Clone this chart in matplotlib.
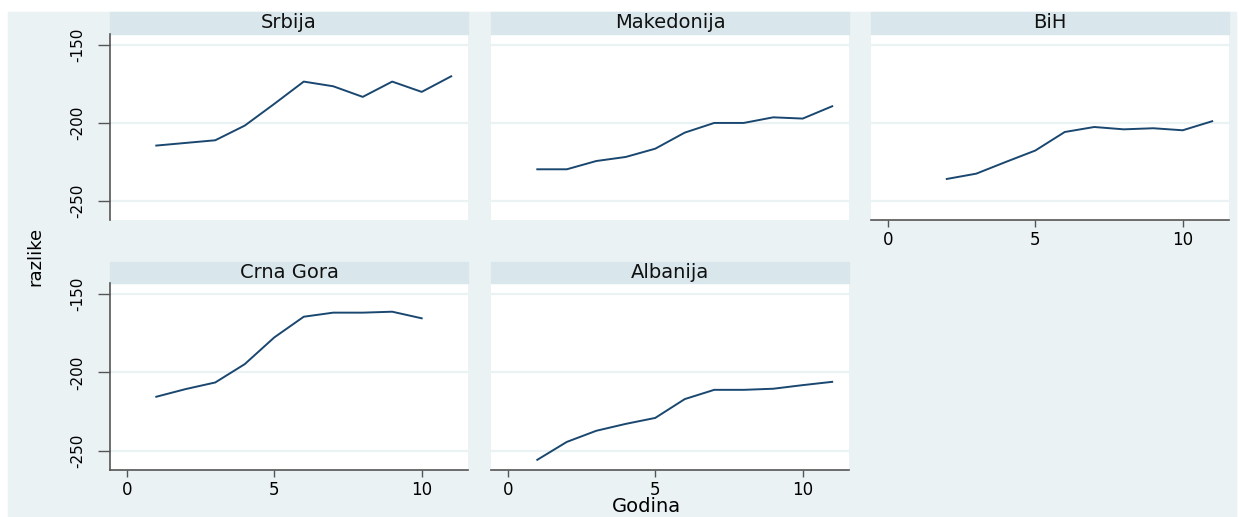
import matplotlib.pyplot as plt
from matplotlib.patches import Rectangle

plt.rcParams["axes.unicode_minus"] = False

# values
years = [1, 2, 3, 4, 5, 6, 7, 8, 9, 10, 11]
srbija = [-214.5, -212.8, -211.1, -201.7, -187.8, -173.5, -176.5, -183.3, -173.5, -180.1, -170.1]
makedonija = [-229.7, -229.7, -224.4, -221.8, -216.5, -206.2, -200.0, -200.0, -196.4, -197.2, -189.3]
bih_years = [2, 3, 4, 5, 6, 7, 8, 9, 10, 11]
bih = [-235.9, -232.5, -225.0, -217.7, -205.8, -202.6, -204.1, -203.4, -204.7, -198.9]
cg_years = [1, 2, 3, 4, 5, 6, 7, 8, 9, 10]
crna_gora = [-215.5, -210.6, -206.4, -194.7, -177.7, -164.5, -161.9, -161.9, -161.3, -165.5]
albanija = [-255.7, -244.3, -237.2, -232.8, -229.0, -217.0, -211.1, -211.1, -210.4, -208.1, -206.0]

panels = [
    ("Srbija", years, srbija),
    ("Makedonija", years, makedonija),
    ("BiH", bih_years, bih),
    ("Crna Gora", cg_years, crna_gora),
    ("Albanija", years, albanija),
]
yticks = [-250, -200, -150]
xticks = [0, 5, 10]

bg = "#EAF2F3"
strip = "#D9E6EB"
navy = "#1A476F"
axcol = "#555555"

W, H = 1239, 517
fig = plt.figure(figsize=(W / 100, H / 100), dpi=100)
fig.patch.set_facecolor("white")
fig.add_artist(Rectangle((8 / W, 0), (1236 - 8) / W, 1 - 12 / H,
                         transform=fig.transFigure, color=bg, zorder=0))

cols = [(110, 468), (491, 849), (871, 1229)]
rows = [(34, 220), (283, 470)]
head = [22, 21]

for i, (name, xs, ys) in enumerate(panels):
    r, c = divmod(i, 3)
    x0, x1 = cols[c]
    y0, y1 = rows[r]
    ax = fig.add_axes([x0 / W, 1 - y1 / H, (x1 - x0) / W, (y1 - y0) / H])
    ax.set_facecolor("white")
    ax.plot(xs, ys, color=navy, lw=1.4)
    ax.set_xlim(-0.57, 11.57)
    ax.set_ylim(-262.2, -143)
    ax.set_yticks(yticks)
    ax.set_xticks(xticks)
    ax.yaxis.grid(True, color=bg, lw=1.6)
    ax.set_axisbelow(True)
    for s in ax.spines.values():
        s.set_visible(False)

    bottom = i in (2, 3, 4)
    if c == 0:
        ax.spines["left"].set_visible(True)
        ax.spines["left"].set_color(axcol)
        ax.spines["left"].set_linewidth(1.2)
        ax.tick_params(axis="y", length=9, width=1, color=axcol, pad=9,
                       labelsize=11)
        plt.setp(ax.get_yticklabels(), rotation=90, va="center")
    else:
        ax.tick_params(axis="y", left=False, labelleft=False)
    if bottom:
        ax.spines["bottom"].set_visible(True)
        ax.spines["bottom"].set_color(axcol)
        ax.spines["bottom"].set_linewidth(1.2)
        ax.tick_params(axis="x", length=5, width=1, color=axcol, pad=3,
                       labelsize=12)
    else:
        ax.tick_params(axis="x", bottom=False, labelbottom=False)

    hh = head[r] / (y1 - y0)
    ax.add_patch(Rectangle((0, 1), 1, hh, transform=ax.transAxes,
                           color=strip, clip_on=False))
    ax.text(0.5, 1 + hh / 2, name, transform=ax.transAxes, ha="center",
            va="center", fontsize=14, color="#111111")

fig.text(35 / W, 1 - 256 / H, "razlike", rotation=90, ha="center",
         va="center", fontsize=13)
fig.text(646 / W, 0.5 / H, "Godina", ha="center", va="bottom", fontsize=14)

fig.savefig("out.png", dpi=100)
